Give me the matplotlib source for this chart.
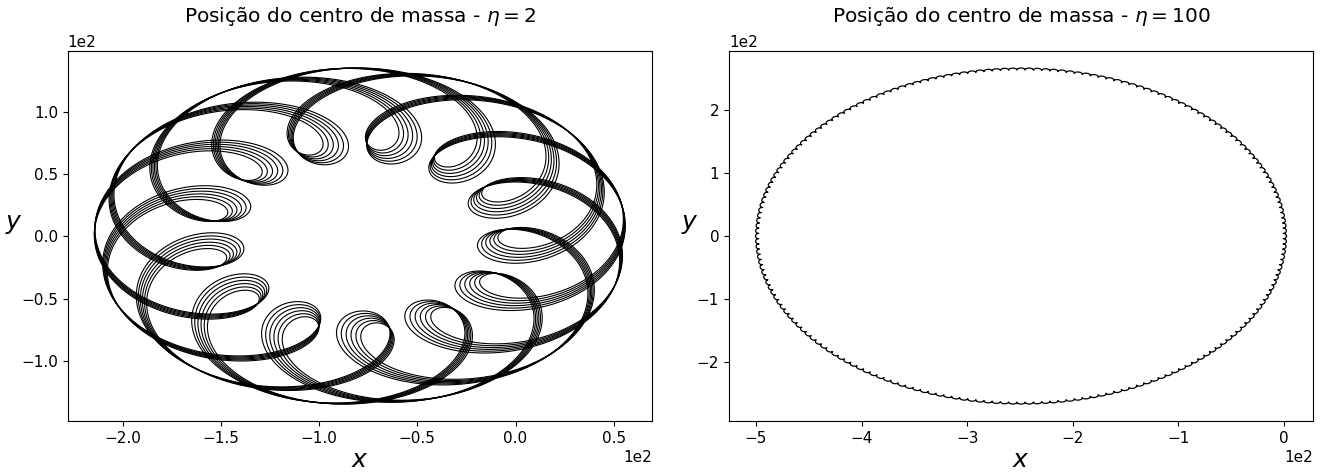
import numpy as np
import matplotlib.pyplot as plt

# curvas do centro de massa (valores em unidades dos eixos, x1e2)
# painel esquerdo: eta = 2
eta_esq = 2
centro_esq = (-79.0, 0.0)
raio_ext_esq = 135.5                      # borda externa da trajetoria
raio_int_esq = [60, 62, 64, 66, 68, 70]   # ponta interna dos lacos, uma por ciclo
giro_esq = [0.0, 1.0, 2.0, 3.0, 4.0, 5.0] # precessao de cada ciclo (graus)
lacos_esq = 13                            # lacos no total
voltas_esq = 3                            # voltas para fechar os 13 lacos
fase_esq = 8.0                            # graus

# painel direito: eta = 100
eta_dir = 100
centro_dir = (-249.0, 0.0)
raio_x_dir = 250.0
raio_y_dir = 266.0
laco_dir = 1.5
lacos_dir = 200
voltas_dir = 1


def trajetoria(centro, R, r, lacos, voltas, fase, ky=1.0, n=20000):
    th = np.linspace(0, 2 * np.pi * voltas, n)
    m = lacos / voltas
    ang = th + np.radians(fase)
    # epiciclo no referencial que gira com o centro guia
    wr = r * np.cos(m * th)
    wt = r * np.sin(m * th)
    x = centro[0] + (R + wr) * np.cos(ang) - wt * np.sin(ang)
    y = centro[1] + ((R + wr) * np.sin(ang) + wt * np.cos(ang)) * ky
    return x, y


fig, (ax1, ax2) = plt.subplots(1, 2, figsize=(13.29, 4.74), dpi=100)
fig.subplots_adjust(left=0.051, right=0.988, top=0.892, bottom=0.112, wspace=0.132)

for ri, g in zip(raio_int_esq, giro_esq):
    r = (raio_ext_esq - ri) / 2
    R = (raio_ext_esq + ri) / 2
    x, y = trajetoria(centro_esq, R, r, lacos_esq, voltas_esq, fase_esq + g)
    ax1.plot(x, y, color='black', lw=0.8)

x, y = trajetoria(centro_dir, raio_x_dir, laco_dir, lacos_dir, voltas_dir, 0.0,
                  ky=raio_y_dir / raio_x_dir, n=60000)
ax2.plot(x, y, color='black', lw=0.9)

for ax, eta in [(ax1, eta_esq), (ax2, eta_dir)]:
    ax.set_title('Posição do centro de massa - $\\eta = %d$' % eta, fontsize=14.5, pad=21)
    ax.set_xlabel('$x$', fontsize=18, labelpad=2)
    ax.set_ylabel('$y$', fontsize=18, rotation=0, labelpad=5)
    ax.ticklabel_format(style='sci', scilimits=(0, 0))
    ax.tick_params(labelsize=11)
    ax.xaxis.get_offset_text().set_fontsize(11)
    ax.yaxis.get_offset_text().set_fontsize(11)

plt.savefig('out.png', dpi=100)
